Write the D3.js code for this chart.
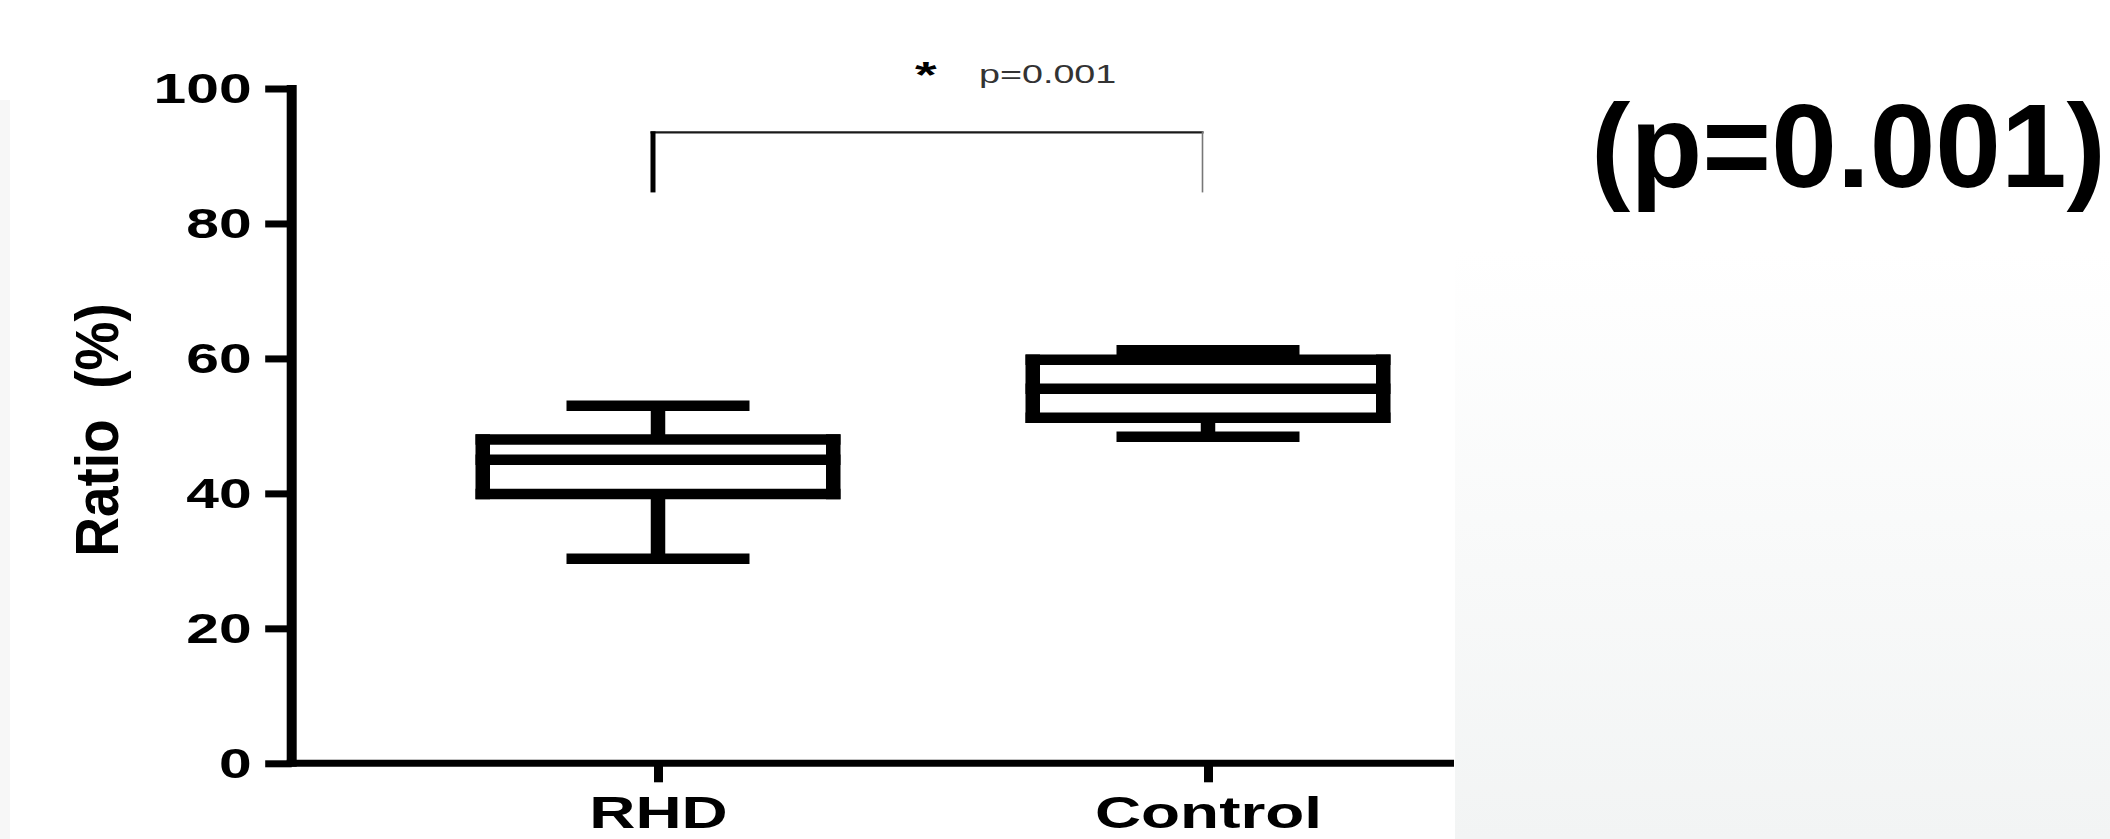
<!DOCTYPE html>
<html>
<head>
<meta charset="utf-8">
<script src="https://cdn.jsdelivr.net/npm/d3@7/dist/d3.min.js"></script>
<style>
  html, body { margin: 0; padding: 0; background: #ffffff; }
  svg { display: block; }
  text { font-family: "Liberation Sans", Arial, Helvetica, sans-serif; }
</style>
</head>
<body>
<svg id="chart" width="2110" height="839"></svg>
<script>
// ---- data ----
const categories   = ["RHD", "Control"];
const whiskerLow   = [30.3, 48.4];
const q1Values     = [39.9, 51.2];
const medianValues = [45.0, 55.5];
const q3Values     = [48.0, 59.8];
const whiskerHigh  = [53.0, 61.2];
const yTicks       = [0, 20, 40, 60, 80, 100];
const bracketLevels = [84.6, 93.5];   // bottom of legs, top bar
const yTitle   = "Ratio  (%)";
const starText = "*";
const pText    = "p=0.001";
const bigText  = "(p=0.001)";

// ---- layout ----
const W = 2110, H = 839;
const svg = d3.select("#chart");
const HSW = 10.5; // horizontal stroke width
const VSW = 14.5; // vertical stroke width

const axisX = 291.7;
const y = d3.scaleLinear().domain([0, 100]).range([763.3, 88.5]);
const x = d3.scalePoint().domain(categories).range([658, 1208]);

// background panels
const defs = svg.append("defs");
const grad = defs.append("linearGradient").attr("id", "panelGrad")
  .attr("x1", 0).attr("y1", 0).attr("x2", 0).attr("y2", 1);
grad.append("stop").attr("offset", "0%").attr("stop-color", "#ffffff");
grad.append("stop").attr("offset", "100%").attr("stop-color", "#f2f4f4");
svg.append("rect").attr("x", 1455).attr("y", 250).attr("width", W - 1455).attr("height", H - 250)
  .attr("fill", "url(#panelGrad)");
svg.append("rect").attr("x", 0).attr("y", 100).attr("width", 10).attr("height", H - 100)
  .attr("fill", "#f7f7f7");

// ---- y axis ----
const yAxisG = svg.append("g").attr("transform", `translate(${axisX},0)`)
  .call(d3.axisLeft(y).tickValues(yTicks).tickSize(26.5).tickSizeOuter(0));
yAxisG.select(".domain").attr("stroke", "#000").attr("stroke-width", 10)
  .attr("d", `M0,${y(100) - 3.5}V${y(0) + 3.5}`);
yAxisG.selectAll(".tick line").attr("stroke", "#000").attr("stroke-width", 7);
const ySX = 1.4;
yAxisG.selectAll(".tick text")
  .attr("x", -40 / ySX).attr("dy", "0.34em")
  .attr("transform", `scale(${ySX},1)`)
  .attr("font-size", 42).attr("font-weight", "bold").attr("fill", "#000");

// ---- x axis ----
const xAxisG = svg.append("g").attr("transform", `translate(0,${y(0)})`)
  .call(d3.axisBottom(x).tickSize(19).tickSizeOuter(0));
xAxisG.select(".domain").attr("stroke", "#000").attr("stroke-width", 7)
  .attr("d", `M${axisX - 5},0H1454`);
xAxisG.selectAll(".tick line").attr("stroke", "#000").attr("stroke-width", 9);
const xSX = 1.42;
xAxisG.selectAll(".tick text")
  .attr("y", 828 - y(0)).attr("dy", 0)
  .attr("transform", `scale(${xSX},1)`)
  .attr("font-size", 45).attr("font-weight", "bold").attr("fill", "#000");

// ---- boxes ----
const boxHalf = 182.5, capHalf = 91.5;
const boxes = categories.map((c, i) => ({
  c, lo: whiskerLow[i], q1: q1Values[i], med: medianValues[i], q3: q3Values[i], hi: whiskerHigh[i]
}));
const bg = svg.append("g").attr("stroke", "#000").attr("fill", "none");
boxes.forEach(b => {
  const cx = x(b.c);
  const g = bg.append("g");
  // stems
  g.append("line").attr("x1", cx).attr("x2", cx).attr("y1", y(b.q3)).attr("y2", y(b.hi)).attr("stroke-width", VSW);
  g.append("line").attr("x1", cx).attr("x2", cx).attr("y1", y(b.q1)).attr("y2", y(b.lo)).attr("stroke-width", VSW);
  // caps
  [b.hi, b.lo].forEach(v => g.append("line")
    .attr("x1", cx - capHalf).attr("x2", cx + capHalf).attr("y1", y(v)).attr("y2", y(v)).attr("stroke-width", HSW));
  // box fill
  g.append("rect").attr("x", cx - boxHalf).attr("y", y(b.q3)).attr("width", boxHalf * 2)
    .attr("height", y(b.q1) - y(b.q3)).attr("fill", "#fff").attr("stroke", "none");
  // horizontal box lines
  [b.q3, b.med, b.q1].forEach(v => g.append("line")
    .attr("x1", cx - boxHalf).attr("x2", cx + boxHalf).attr("y1", y(v)).attr("y2", y(v)).attr("stroke-width", HSW));
  // vertical sides
  [-1, 1].forEach(s => g.append("line")
    .attr("x1", cx + s * (boxHalf - VSW / 2)).attr("x2", cx + s * (boxHalf - VSW / 2))
    .attr("y1", y(b.q3) - HSW / 2).attr("y2", y(b.q1) + HSW / 2).attr("stroke-width", VSW));
});

// ---- significance bracket ----
const xl = x(categories[0]) - 5, xr = x(categories[1]) - 5.5;
svg.append("line").attr("x1", xl - 2.5).attr("x2", xr + 1).attr("y1", y(bracketLevels[1])).attr("y2", y(bracketLevels[1]))
  .attr("stroke", "#1a1a1a").attr("stroke-width", 2.2);
svg.append("line").attr("x1", xl).attr("x2", xl).attr("y1", y(bracketLevels[1]) - 1).attr("y2", y(bracketLevels[0]))
  .attr("stroke", "#000").attr("stroke-width", 5);
svg.append("line").attr("x1", xr).attr("x2", xr).attr("y1", y(bracketLevels[1]) - 1).attr("y2", y(bracketLevels[0]))
  .attr("stroke", "#777").attr("stroke-width", 1.6);

// star and p text
svg.append("text").attr("transform", `translate(915,88) scale(1.5,1)`)
  .attr("font-size", 37).attr("font-weight", "bold").attr("fill", "#000").text(starText);
svg.append("text").attr("transform", `translate(979,83) scale(1.45,1)`)
  .attr("font-size", 26).attr("fill", "#333").text(pText);

// y title
svg.append("text")
  .attr("transform", `translate(118,430) scale(1.12,1) rotate(-90)`)
  .attr("text-anchor", "middle")
  .attr("font-size", 55).attr("font-weight", "bold").attr("fill", "#000")
  .attr("xml:space", "preserve").style("white-space", "pre")
  .text(yTitle);

// big p label
svg.append("text").attr("x", 1591).attr("y", 187)
  .attr("font-size", 118).attr("font-weight", "bold").attr("fill", "#000").text(bigText);
</script>
</body>
</html>
